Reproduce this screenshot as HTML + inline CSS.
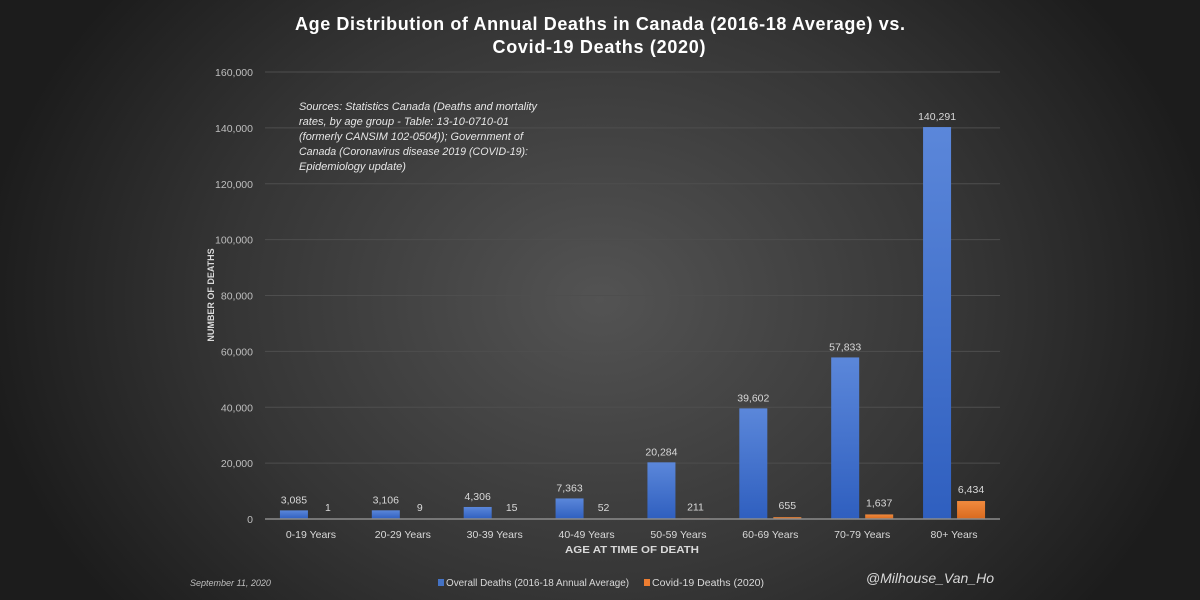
<!DOCTYPE html>
<html><head><meta charset="utf-8"><style>
html,body{margin:0;padding:0;width:1200px;height:600px;overflow:hidden;background:#1a1a1a;}
svg{display:block;font-family:"Liberation Sans",sans-serif;}
</style></head><body>
<svg id="chart" width="1200" height="600" viewBox="0 0 1200 600">
<defs>
<radialGradient id="bg" cx="600" cy="300" r="620" gradientUnits="userSpaceOnUse" gradientTransform="translate(600 300) scale(1 0.8) translate(-600 -300)">
<stop offset="0" stop-color="#535353"/><stop offset="0.6" stop-color="#353535"/><stop offset="1" stop-color="#1c1c1c"/>
</radialGradient>
<linearGradient id="blue" x1="0" y1="0" x2="0" y2="1"><stop offset="0" stop-color="#5b87da"/><stop offset="1" stop-color="#2f5fbf"/></linearGradient>
<linearGradient id="orange" x1="0" y1="0" x2="0" y2="1"><stop offset="0" stop-color="#f08a3e"/><stop offset="1" stop-color="#d96a1f"/></linearGradient>
</defs>
<rect width="1200" height="600" fill="url(#bg)"/>
<text x="600" y="30" text-anchor="middle" font-size="18" font-weight="bold" fill="#fff" textLength="610" lengthAdjust="spacing">Age Distribution of Annual Deaths in Canada (2016-18 Average) vs.</text>
<text x="599" y="53" text-anchor="middle" font-size="18" font-weight="bold" fill="#fff" textLength="213" lengthAdjust="spacing">Covid-19 Deaths (2020)</text>
<g id="grid"></g>
<g id="bars"></g>
<g font-size="11" font-style="italic" fill="#e6e6e6">
<text x="299" y="110" textLength="238" lengthAdjust="spacingAndGlyphs">Sources: Statistics Canada (Deaths and mortality</text>
<text x="299" y="125" textLength="210" lengthAdjust="spacingAndGlyphs">rates, by age group - Table: 13-10-0710-01</text>
<text x="299" y="140" textLength="224" lengthAdjust="spacingAndGlyphs">(formerly CANSIM 102-0504)); Government of</text>
<text x="299" y="155" textLength="229" lengthAdjust="spacingAndGlyphs">Canada (Coronavirus disease 2019 (COVID-19):</text>
<text x="299" y="170" textLength="107" lengthAdjust="spacingAndGlyphs">Epidemiology update)</text>
</g>
<text transform="translate(214 295) rotate(-90)" text-anchor="middle" font-size="9" font-weight="bold" fill="#d9d9d9">NUMBER OF DEATHS</text>
<text x="632" y="553" text-anchor="middle" font-size="10" font-weight="bold" fill="#d9d9d9" textLength="134" lengthAdjust="spacingAndGlyphs">AGE AT TIME OF DEATH</text>
<text x="190" y="586" font-size="9" font-style="italic" fill="#bfbfbf">September 11, 2020</text>
<g>
<rect x="438" y="579" width="6" height="7" fill="#4472c4"/>
<text x="446" y="586" font-size="10" fill="#d9d9d9" textLength="183" lengthAdjust="spacingAndGlyphs">Overall Deaths (2016-18 Annual Average)</text>
<rect x="644" y="579" width="6" height="7" fill="#ed7d31"/>
<text x="652" y="586" font-size="10" fill="#d9d9d9" textLength="112" lengthAdjust="spacingAndGlyphs">Covid-19 Deaths (2020)</text>
</g>
<text x="994" y="583" text-anchor="end" font-size="14" font-style="italic" fill="#d9d9d9">@Milhouse_Van_Ho</text>
</svg>
<script>
const categories=["0-19 Years","20-29 Years","30-39 Years","40-49 Years","50-59 Years","60-69 Years","70-79 Years","80+ Years"];
const overall=[3085,3106,4306,7363,20284,39602,57833,140291];
const covid=[1,9,15,52,211,655,1637,6434];
const yTicks=[0,20000,40000,60000,80000,100000,120000,140000,160000];
const NS="http://www.w3.org/2000/svg";
const X0=265,X1=1000,Y0=519,YT=72,YMAX=160000;
const bw=(X1-X0)/categories.length;
function y(v){return Y0-(v/YMAX)*(Y0-YT);}
function cx(i){return X0+bw*(i+0.5);}
function mk(tag,attrs,parent){const e=document.createElementNS(NS,tag);for(const k in attrs)e.setAttribute(k,attrs[k]);parent.appendChild(e);return e;}
const grid=document.getElementById('grid'),bars=document.getElementById('bars');
yTicks.forEach(t=>{
  if(t>0){const l=mk('line',{x1:X0,x2:X1,y1:y(t),y2:y(t),stroke:'#4e4e4e','stroke-width':1},grid);
  
  }
  const tx=mk('text',{x:253,y:y(t)+4,'text-anchor':'end','font-size':10.5,fill:'#bfbfbf'},grid);
  tx.textContent=t.toLocaleString('en-US');
  
  
});
categories.forEach((c,i)=>{
  const c0=cx(i);
  const b=mk('rect',{x:c0-31,y:y(overall[i]),width:28,height:Y0-y(overall[i]),fill:'url(#blue)'},bars);
  
  
  const o=mk('rect',{x:c0+3,y:y(covid[i]),width:28,height:Math.max(0,Y0-y(covid[i])),fill:'url(#orange)'},bars);
  
  
  const t1=mk('text',{x:c0-17,y:y(overall[i])-7,'text-anchor':'middle','font-size':10.5,fill:'#d9d9d9'},bars);
  t1.textContent=overall[i].toLocaleString('en-US');
  
  
  const t2=mk('text',{x:c0+17,y:y(covid[i])-8,'text-anchor':'middle','font-size':10.5,fill:'#d9d9d9'},bars);
  t2.textContent=covid[i].toLocaleString('en-US');
  
  
  const xl=mk('text',{x:c0,y:538,'text-anchor':'middle','font-size':10.5,fill:'#d9d9d9'},bars);
  xl.textContent=c;
  
  
});
const ax=mk('line',{x1:X0,x2:X1,y1:Y0,y2:Y0,stroke:'#8c8c8c','stroke-width':1.5},bars);


</script>
</body></html>
